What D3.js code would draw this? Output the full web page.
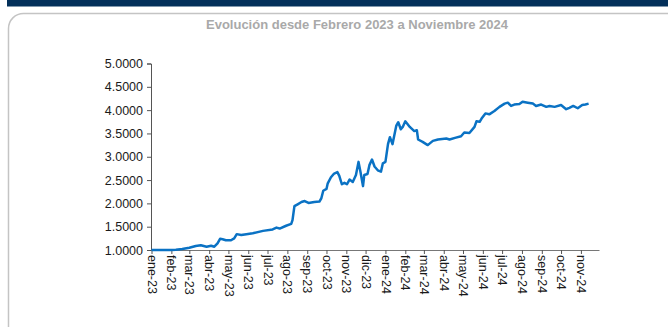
<!DOCTYPE html>
<html>
<head>
<meta charset="utf-8">
<script src="https://cdn.jsdelivr.net/npm/d3@7"></script>
<style>
  html, body { margin: 0; padding: 0; background: #fff; }
  svg { display: block; font-family: Arial, "Liberation Sans", sans-serif; }
</style>
</head>
<body>
<svg id="chart" width="668" height="327"></svg>
<script>
// Índice de evolución (base 1.0000 en enero 2023)
const dates = [
  "2023-01-01","2023-01-15","2023-02-01","2023-02-08","2023-02-18","2023-03-01","2023-03-11","2023-03-19",
  "2023-03-28","2023-04-04","2023-04-09","2023-04-14","2023-04-18","2023-04-22","2023-04-27","2023-05-05",
  "2023-05-10","2023-05-14","2023-05-21","2023-05-29","2023-06-08","2023-06-24","2023-07-09","2023-07-15",
  "2023-07-20","2023-07-30","2023-08-07","2023-08-09","2023-08-12","2023-08-17","2023-08-23","2023-08-28",
  "2023-09-03","2023-09-12","2023-09-20","2023-09-23","2023-09-26","2023-10-01","2023-10-03","2023-10-08",
  "2023-10-13","2023-10-18","2023-10-21","2023-10-25","2023-10-29","2023-11-02","2023-11-06","2023-11-11",
  "2023-11-16","2023-11-20","2023-11-23","2023-11-27","2023-11-29","2023-12-04","2023-12-07","2023-12-11",
  "2023-12-15","2023-12-20","2023-12-25","2023-12-28","2024-01-01","2024-01-05","2024-01-08","2024-01-12",
  "2024-01-18","2024-01-21","2024-01-25","2024-01-28","2024-02-01","2024-02-08","2024-02-15","2024-02-19",
  "2024-02-21","2024-02-28","2024-03-07","2024-03-15","2024-03-23","2024-04-05","2024-04-10","2024-04-20",
  "2024-04-28","2024-05-03","2024-05-11","2024-05-19","2024-05-22","2024-05-27","2024-05-30","2024-06-05",
  "2024-06-11","2024-06-19","2024-06-27","2024-07-05","2024-07-10","2024-07-15","2024-07-20","2024-07-28",
  "2024-08-02","2024-08-10","2024-08-18","2024-08-23","2024-08-31","2024-09-08","2024-09-13","2024-09-21",
  "2024-10-01","2024-10-09","2024-10-14","2024-10-20","2024-10-27","2024-11-03","2024-11-08","2024-11-13"
];
const values = [
  1.000,1.000,1.000,1.005,1.020,1.050,1.086,1.100,
  1.070,1.090,1.070,1.140,1.240,1.230,1.210,1.210,
  1.250,1.340,1.320,1.340,1.360,1.410,1.440,1.480,
  1.460,1.520,1.560,1.640,1.940,1.980,2.030,2.050,
  2.010,2.030,2.040,2.110,2.270,2.310,2.430,2.560,
  2.640,2.670,2.590,2.410,2.440,2.410,2.510,2.460,
  2.610,2.890,2.680,2.370,2.610,2.630,2.820,2.940,
  2.790,2.710,2.680,2.860,2.890,3.270,3.420,3.270,
  3.670,3.740,3.590,3.640,3.760,3.640,3.550,3.570,
  3.370,3.320,3.250,3.340,3.370,3.390,3.370,3.410,
  3.440,3.520,3.510,3.640,3.760,3.750,3.820,3.930,
  3.910,3.980,4.070,4.140,4.160,4.090,4.120,4.130,
  4.180,4.160,4.140,4.090,4.120,4.070,4.090,4.070,
  4.110,4.020,4.050,4.090,4.040,4.110,4.120,4.140
];
const yTicks = [1.0, 1.5, 2.0, 2.5, 3.0, 3.5, 4.0, 4.5, 5.0];
const monthNames = ["ene","feb","mar","abr","may","jun","jul","ago","sep","oct","nov","dic"];
const titleText = "Evolución desde Febrero 2023 a Noviembre 2024";

const parse = d3.timeParse("%Y-%m-%d");
const series = dates.map((d, i) => ({ date: parse(d), value: values[i] }));

const svg = d3.select("#chart");

// Franja superior y tarjeta
svg.append("rect")
  .attr("x", 7).attr("y", 0).attr("width", 661).attr("height", 6.5)
  .attr("fill", "#03305a");
svg.append("rect")
  .attr("x", 8.5).attr("y", 13.5).attr("width", 675).attr("height", 330)
  .attr("rx", 15).attr("ry", 15)
  .attr("fill", "#fff").attr("stroke", "#c4c4c4").attr("stroke-width", 1.5);

svg.append("text")
  .attr("x", 357).attr("y", 29)
  .attr("text-anchor", "middle")
  .attr("font-size", 13).attr("font-weight", "bold")
  .attr("fill", "#a9a9a9")
  .text(titleText);

const x = d3.scaleTime()
  .domain([parse("2023-01-01"), parse("2024-11-30")])
  .range([151.5, 599.5]);
const y = d3.scaleLinear()
  .domain([1, 5])
  .range([250, 63.5]);

// Eje Y
const yAxis = d3.axisLeft(y)
  .tickValues(yTicks)
  .tickFormat(d3.format(".4f"))
  .tickSize(4).tickPadding(4);
const gy = svg.append("g").attr("transform", "translate(151,0)").call(yAxis);
gy.select(".domain").attr("stroke", "#555");
gy.selectAll(".tick line").attr("stroke", "#555");
gy.selectAll("text").attr("font-size", 12.5).attr("fill", "#1a1a1a")
  .attr("font-family", "Arial, 'Liberation Sans', sans-serif");

// Eje X (meses)
const months = d3.timeMonth.range(parse("2023-01-01"), parse("2024-11-02"));
const xAxis = d3.axisBottom(x)
  .tickValues(months)
  .tickFormat(d => monthNames[d.getMonth()] + "-" + String(d.getFullYear()).slice(2))
  .tickSize(4).tickSizeOuter(0);
const gx = svg.append("g").attr("transform", "translate(0,250)").call(xAxis);
gx.select(".domain").attr("stroke", "#777").attr("d", "M151,0.5H599.5");
gx.selectAll(".tick line").attr("stroke", "#555");
gx.selectAll("text")
  .attr("font-size", 12.5).attr("fill", "#1a1a1a")
  .attr("font-family", "Arial, 'Liberation Sans', sans-serif")
  .attr("transform", "rotate(90)")
  .attr("text-anchor", "start")
  .attr("x", 5).attr("y", 0).attr("dy", "0.35em");

// Serie
const line = d3.line()
  .x(d => x(d.date))
  .y(d => y(d.value));
svg.append("path")
  .datum(series)
  .attr("d", line)
  .attr("fill", "none")
  .attr("stroke", "#0a72c4")
  .attr("stroke-width", 2.5)
  .attr("stroke-linejoin", "round");
</script>
</body>
</html>
